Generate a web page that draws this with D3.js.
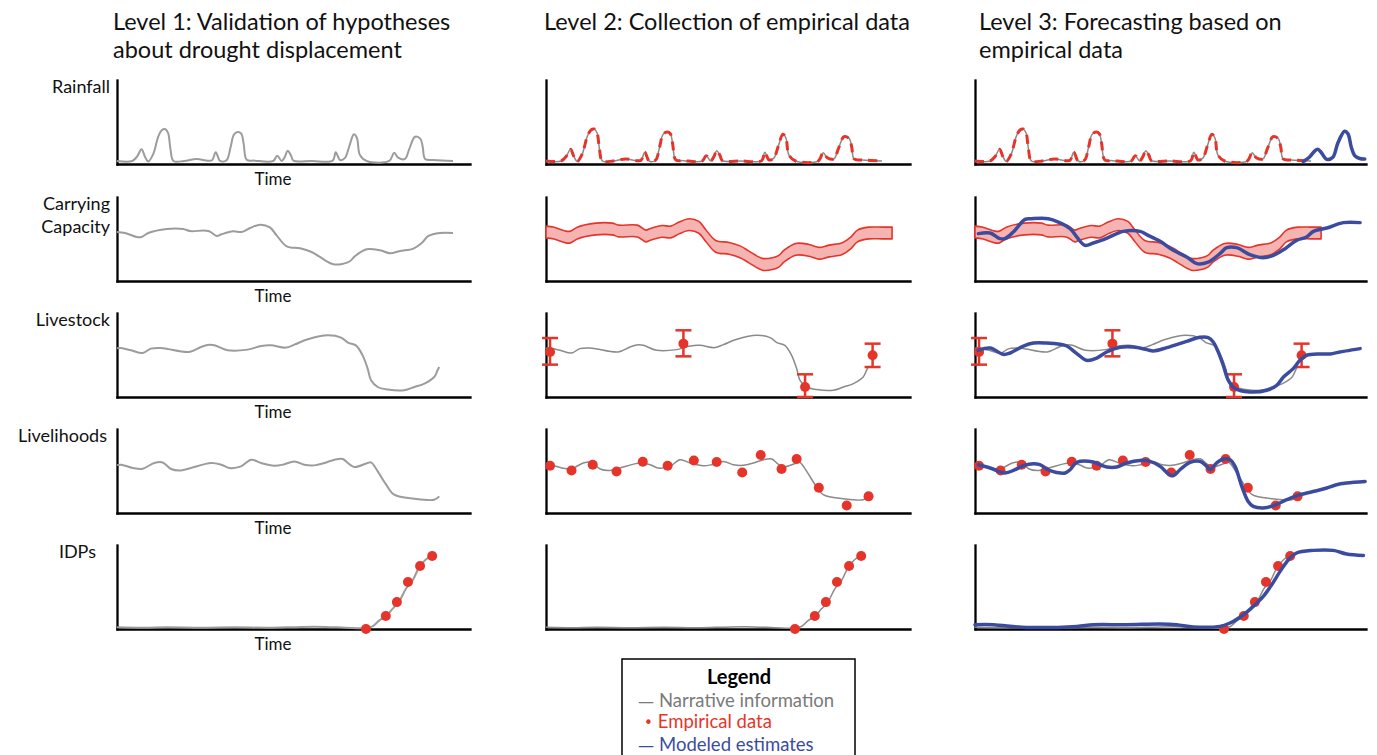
<!DOCTYPE html>
<html>
<head>
<meta charset="utf-8">
<script src="https://cdn.jsdelivr.net/npm/d3@7"></script>
<style>
  body { margin: 0; background: #fff; }
  svg { display: block; }
  text { font-family: Lato, "Open Sans", sans-serif; }
</style>
</head>
<body>
<script>
// ---- data: [time, value], time 0..100 = narrative period, value 0..100 = panel height
const columnTitles = [
    ["Level 1: Validation of hypotheses", "about drought displacement"],
    ["Level 2: Collection of empirical data"],
    ["Level 3: Forecasting based on", "empirical data"]
];
const rowLabels = [["Rainfall"], ["Carrying", "Capacity"], ["Livestock"], ["Livelihoods"], ["IDPs"]];

const rainfall = [[0,3.6],[4.5,3.6],[6,9],[7.3,17.5],[8.3,9],[9.3,3],[10.8,12],[12.3,33],[13.4,40.5],[14.3,41.7],[15.2,37],[15.9,18],[16.8,3.6],[20,3.6],[23.7,6],[27,4],[28.3,4.5],[29.4,14],[30.7,3.6],[32.6,4.5],[33.8,20],[34.8,35],[36,38],[37,36],[37.7,24],[38.6,5],[41,4],[46.5,3.6],[47.7,9.9],[49,3.6],[50,9],[50.8,15.9],[51.8,10],[52.5,4],[58,3.6],[64.2,4],[65.1,13.9],[66.4,4.8],[67.8,7],[69.2,22],[70.5,35.3],[71.4,31],[72.3,10.7],[74.3,3.6],[81,3.6],[82.5,13.5],[83.7,7.5],[85.7,6],[87,18],[88.7,32.5],[90.3,30],[91,20],[91.7,6],[94.1,4.8],[100,3.6]];
const rainfallModel = [[97.7,3],[99.5,8],[101,15],[102,17.5],[103,14],[104.7,5.5],[106.5,8],[108,25],[110,39],[111,36],[112,20],[113,10],[114.5,6.5],[116,6]];

const capacity = [[0,58.3],[2.4,57.1],[5.9,52.4],[7.3,52.4],[9.3,57.1],[14.8,61.9],[19.7,61.9],[21.7,59.5],[27.2,59.5],[29.7,53.6],[31.1,55.6],[34.6,59.1],[37.1,58.3],[39.6,63.1],[42.6,67.1],[45.5,63.9],[47.5,54.4],[50.5,41.3],[54.5,38.9],[57.9,34.5],[60.4,28.6],[64.4,19.9],[67.4,20.7],[69.3,23.5],[70.8,29.4],[74.3,37.7],[78.3,36.5],[81.3,33],[84.2,35.7],[88.2,38.6],[90.7,45.2],[92.7,53.6],[96.1,57.1],[100,57.1]];
const capacityBandEnd = [[103,57.1]];
const capacityBandHalf = 7;
const capacityModel = [[1,56.4],[4.5,57.1],[7.4,50.4],[8.9,50.4],[11.4,58.3],[14.9,73.4],[16.9,74.2],[21.8,74.2],[24.8,70.2],[28.3,62.4],[30.3,52.4],[32.7,42.5],[35.2,45.2],[38.2,49.2],[42.2,56.4],[44.1,59.1],[49.1,59.1],[51.1,55.2],[55.1,47.2],[59,36.5],[63,28.6],[66,20.7],[69.4,22.6],[72.9,32.6],[74.9,39.7],[77.9,39.7],[81.8,31.4],[85.8,27.8],[88.8,30.6],[92.3,38.5],[95.7,48.4],[98.7,52.4],[100.7,59.1],[104.7,63.1],[109.6,69.5],[114.6,69.5]];

const livestock = [[0,58],[1.2,58.3],[4.2,55.6],[7.6,52.4],[10.1,57.6],[13.1,58.3],[15.1,57.1],[21.5,53.6],[25,59.5],[27,61.9],[29,61.5],[32.9,55.6],[38.9,56.4],[42.9,60.7],[45.8,61.5],[50.3,58.8],[52.8,62.4],[56.8,68.7],[62.7,73.4],[66.7,70.7],[68.7,64.8],[71.1,61.5],[73.1,49.6],[74.6,33.8],[75.6,19.9],[77.6,11.9],[80.6,8.8],[85.5,8],[88.5,11.9],[91.5,16],[94.4,23.8],[95.4,31.8],[95.9,35.7]];
// [time, estimate, low, high]
const livestockSurveys = [[1.2,53.6,38.5,70.2],[40.9,63.5,48.4,79.4],[77.1,11.9,0,27],[97.2,49.6,35.7,63.5]];
const livestockModel = [[1,55.6],[4.5,58.3],[8.4,50.8],[10.4,52.4],[14.4,60.7],[17.4,64.3],[21.3,64.3],[25.3,62.7],[27.3,60.7],[30.3,51.7],[33.2,43.7],[36.2,46.4],[39.2,53.6],[43.2,59.2],[47.1,59.5],[51.1,56.4],[53.1,54.8],[57.1,58.8],[63,66.3],[67,71.1],[69.4,70.7],[70.9,65.5],[72.4,53.6],[73.9,37.7],[75.4,19.9],[77.4,10],[81.8,6],[86.8,8],[89.8,13.9],[91.8,23.8],[94.7,33.8],[96.7,43.7],[98.7,49.6],[102.7,51.2],[105.7,51.2],[108.6,53.6],[114.6,57.6]];

const livelihoods = [[0,57],[1.2,57.5],[4.7,53.6],[7.6,52.7],[11.1,59.5],[13.6,60.2],[16.1,52.4],[19,50.7],[22,53.6],[28,59.5],[31,57.5],[33.4,53.6],[36.9,55.5],[39.9,63.5],[42.9,59.5],[46.8,56.3],[49.3,57.5],[52.8,61.4],[55.7,57.5],[58.7,56.7],[61.7,59.5],[64.7,63.5],[67.2,64.3],[68.7,59.5],[70.6,54.8],[74.6,59.5],[75.6,60.2],[77.6,49.5],[80.1,33.7],[82.5,21.8],[88.5,17],[94.4,15.8],[95.9,19.8]];
const livelihoodsSurveys = [[1.2,56.3],[7.6,50.7],[13.9,57.5],[21,49.5],[28.8,61.1],[36.2,56.3],[44,62.6],[50.8,60.7],[58.4,48.3],[63.9,69],[70.1,52.4],[74.6,64.3],[81.2,30.1],[89.5,9],[96,19.8]];
const livelihoodsModel = [[1,57.5],[4.5,53.6],[8.9,47.6],[11.9,51.5],[14.4,56.3],[17.4,58.7],[19.3,57.5],[21.8,51.5],[24.3,48.3],[26.8,47.6],[28.3,51.5],[30.3,60.2],[35.2,60.7],[37.2,57.5],[39.2,54.8],[42.2,54.8],[45.1,59.5],[49.1,62.6],[52.1,61.4],[55.1,55.5],[57.5,46.8],[59,44.4],[61,51.5],[64,60.2],[67,61.4],[69,55.5],[69.9,51.5],[71.9,59.5],[73.9,64.3],[75.9,63.5],[77.4,55.5],[79.4,31.7],[81.3,13.8],[82.8,7.9],[85.8,6],[88.8,8.7],[92.8,15.8],[96.7,21.8],[101.7,26.5],[104.7,29.8],[107.6,33.7],[110.6,35.7],[116.1,37.6]];

const idps = [[0,2],[8,1.5],[15,2],[25,1.5],[35,2],[45,1.5],[55,2.5],[62,2.5],[68,1.5],[74,1],[76,3],[78,10],[80,15],[82,24],[84,33],[86,48],[88,58],[90,74],[92,83],[94,88]];
const idpsSurveys = [[74.1,0],[80,15.5],[83.3,32],[86.6,56],[90.2,75],[93.8,87]];
const idpsModel = [[0,5.1],[5.4,5.1],[15.4,1.9],[30.3,3.1],[35.2,5.1],[45.1,5.1],[55.1,6],[60,5.1],[65,2.4],[72.9,3.1],[75.9,7.1],[79.9,17],[82.8,26.9],[85.8,38.8],[88.3,52.7],[90.8,68.6],[93.3,82.5],[95.7,90.5],[100.7,93.6],[106.6,93.6],[110.6,89.3],[115.6,87.6]];

const legendItems = [
    {mark: "\u2014", label: "Narrative information", color: "#7a7a7a"},
    {mark: "\u2022", label: "Empirical data", color: "#e5352a"},
    {mark: "\u2014", label: "Modeled estimates", color: "#3b4ca0"}
];

// ---- layout
const width = 1377, height = 755;
const colLeft = [117, 546, 975];
const colRight = [470, 910, 1366];
const titleX = [113, 544, 979];
const labelRight = [110, 110, 110, 107, 96];
const rowBottom = [164, 281, 397, 513, 629];
const panelH = 84;
const span = 336; // px covered by time 0..100

const RED = "#e5352a", BLUE = "#3b4ca0", PINK = "#f5b4b1";

const svg = d3.select("body").append("svg")
    .attr("width", width)
    .attr("height", height);

// Column titles
columnTitles.forEach((lines, c) => {
    svg.append("text")
        .attr("y", 30)
        .style("font-size", "23.5px")
        .attr("fill", "#111")
        .selectAll("tspan")
        .data(lines)
        .join("tspan")
        .attr("x", titleX[c])
        .attr("dy", (_, i) => i === 0 ? 0 : 28)
        .text(d => d);
});

const rows = [
    {narrative: rainfall, kind: "dashed", model: rainfallModel},
    {narrative: capacity, kind: "band", model: capacityModel},
    {narrative: livestock, kind: "errorbars", surveys: livestockSurveys, model: livestockModel},
    {narrative: livelihoods, kind: "dots", surveys: livelihoodsSurveys, model: livelihoodsModel},
    {narrative: idps, kind: "dots", surveys: idpsSurveys, model: idpsModel, inLevel1: true}
];

rows.forEach((row, r) => {
    const bottom = rowBottom[r];

    // Row label (left of the first column)
    svg.append("text")
        .attr("y", bottom - panelH + 13)
        .attr("text-anchor", "end")
        .style("font-size", "18px")
        .attr("fill", "#111")
        .selectAll("tspan")
        .data(rowLabels[r])
        .join("tspan")
        .attr("x", labelRight[r])
        .attr("dy", (_, i) => i === 0 ? 0 : 23)
        .text(d => d);

    [0, 1, 2].forEach(c => {
        const x = d3.scaleLinear().domain([0, 100]).range([colLeft[c], colLeft[c] + span]);
        const y = d3.scaleLinear().domain([0, 100]).range([bottom, bottom - panelH]);
        const g = svg.append("g");

        // Axes: plain L-shaped lines, no ticks
        g.append("g")
            .attr("transform", `translate(0,${bottom})`)
            .call(d3.axisBottom(d3.scaleLinear().range([colLeft[c], colRight[c]])).tickValues([]).tickSizeOuter(0));
        g.append("g")
            .attr("transform", `translate(${colLeft[c]},0)`)
            .call(d3.axisLeft(y).tickValues([]).tickSizeOuter(0));
        g.selectAll(".domain")
            .attr("stroke", "#000")
            .attr("stroke-width", 2.3)
            .attr("stroke-linecap", "square");

        if (c === 0) {
            g.append("text")
                .attr("x", colLeft[c] + 156)
                .attr("y", bottom + 21)
                .attr("text-anchor", "middle")
                .style("font-size", "17px")
                .attr("fill", "#111")
                .text("Time");
        }

        const line = d3.line()
            .x(d => x(d[0]))
            .y(d => y(d[1]))
            .curve(d3.curveCatmullRom.alpha(0.5));

        // Narrative information
        g.append("path")
            .datum(row.narrative)
            .attr("d", line)
            .attr("fill", "none")
            .attr("stroke", c === 0 ? "#9c9c9c" : "#8a8a8a")
            .attr("stroke-width", c === 0 ? 2 : 1.5);

        if (c === 0 && !row.inLevel1) return;

        // Empirical data
        if (row.kind === "dashed") {
            g.append("path")
                .datum(row.narrative)
                .attr("d", line)
                .attr("fill", "none")
                .attr("stroke", RED)
                .attr("stroke-width", 3)
                .attr("stroke-dasharray", "9,6");
        } else if (row.kind === "band") {
            const area = d3.area()
                .x(d => x(d[0]))
                .y0(d => y(d[1] - capacityBandHalf))
                .y1(d => y(d[1] + capacityBandHalf))
                .curve(d3.curveCatmullRom.alpha(0.5));
            g.append("path")
                .datum(row.narrative.concat(capacityBandEnd))
                .attr("d", area)
                .attr("fill", PINK)
                .attr("stroke", RED)
                .attr("stroke-width", 1.6)
                .attr("stroke-linejoin", "round");
        } else if (row.kind === "errorbars") {
            const eb = g.append("g").selectAll("g")
                .data(row.surveys)
                .join("g")
                .attr("stroke", RED)
                .attr("stroke-width", 2.5);
            eb.append("line")
                .attr("x1", d => x(d[0])).attr("x2", d => x(d[0]))
                .attr("y1", d => y(d[2])).attr("y2", d => y(d[3]));
            eb.append("line")
                .attr("x1", d => x(d[0]) - 8).attr("x2", d => x(d[0]) + 8)
                .attr("y1", d => y(d[2])).attr("y2", d => y(d[2]));
            eb.append("line")
                .attr("x1", d => x(d[0]) - 8).attr("x2", d => x(d[0]) + 8)
                .attr("y1", d => y(d[3])).attr("y2", d => y(d[3]));
            eb.append("circle")
                .attr("cx", d => x(d[0]))
                .attr("cy", d => y(d[1]))
                .attr("r", 5)
                .attr("fill", RED)
                .attr("stroke", "none");
        } else {
            g.append("g").selectAll("circle")
                .data(row.surveys)
                .join("circle")
                .attr("cx", d => x(d[0]))
                .attr("cy", d => y(d[1]))
                .attr("r", 5)
                .attr("fill", RED);
        }

        // Modeled estimates
        if (c === 2) {
            g.append("path")
                .datum(row.model)
                .attr("d", line)
                .attr("fill", "none")
                .attr("stroke", BLUE)
                .attr("stroke-width", 3.5)
                .attr("stroke-linejoin", "round")
                .attr("stroke-linecap", "round");
        }
    });
});

// Legend
const legend = svg.append("g");
legend.append("rect")
    .attr("x", 622).attr("y", 659)
    .attr("width", 233).attr("height", 120)
    .attr("fill", "#fff")
    .attr("stroke", "#000")
    .attr("stroke-width", 1.5);
legend.append("text")
    .attr("x", 739).attr("y", 684)
    .attr("text-anchor", "middle")
    .style("font-size", "20px")
    .style("font-weight", "bold")
    .attr("fill", "#000")
    .text("Legend");
const items = legend.selectAll(".item")
    .data(legendItems)
    .join("text")
    .attr("class", "item")
    .attr("x", (_, i) => [638, 644, 638][i])
    .attr("y", (_, i) => [707, 728, 751][i])
    .style("font-size", "18.5px")
    .attr("fill", d => d.color);
items.append("tspan")
    .style("font-family", "'DejaVu Sans', sans-serif")
    .style("font-size", d => d.mark === "\u2022" ? "15px" : "16px")
    .text(d => d.mark);
items.append("tspan")
    .attr("dx", 5)
    .text(d => d.label);
</script>
</body>
</html>
